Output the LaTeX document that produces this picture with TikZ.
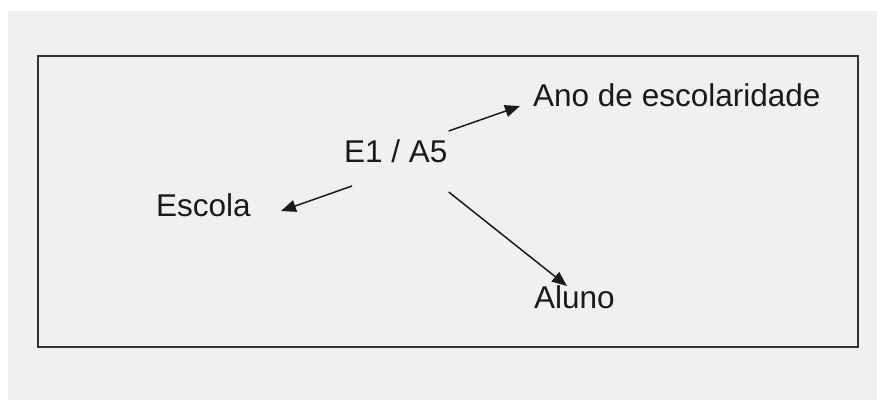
\documentclass[tikz,border=0pt]{standalone}
\usepackage{fontspec}
\setmainfont{Liberation Sans}
\usetikzlibrary{arrows.meta,calc}
\definecolor{panel}{HTML}{F0F0F0}
\definecolor{ink}{HTML}{1A1A1A}
\tikzset{
  lbl/.style={inner sep=0pt, anchor=base west, text=ink,
    font=\fontsize{31.5}{36}\selectfont},
  arr/.style={draw=ink, line width=1.5pt,
    -{Triangle[length=15pt,width=12pt]}},
  frame/.style={draw=black!80, line width=1.8pt}
}
\begin{document}
\begin{tikzpicture}[x=1pt,y=1pt]
  % canvas
  \fill[white] (0,0) rectangle (877,-400);
  \useasboundingbox (0,0) rectangle (877,-400);
  \fill[panel] (8,-11) rectangle (877,-400);
  \draw[frame] (38,-56) rectangle (858,-347);

  % labels
  \node[lbl] (e1)  at (344,-162) {E1 / A5};
  \node[lbl] (ano) at (533,-106) {Ano de escolaridade};
  \node[lbl] (esc) at (156,-216) {Escola};
  \node[lbl] (alu) at (534,-308) {Aluno};

  % arrows from the centre label
  \draw[arr] ([shift={(1,31)}]e1.base east) -- ([shift={(-13,0)}]ano.base west);
  \draw[arr] ([shift={(8,-24)}]e1.base west) -- ([shift={(30,5)}]esc.base east);
  \draw[arr] ([shift={(1,-30)}]e1.base east) -- ([shift={(33,22)}]alu.base west);
\end{tikzpicture}
\end{document}
